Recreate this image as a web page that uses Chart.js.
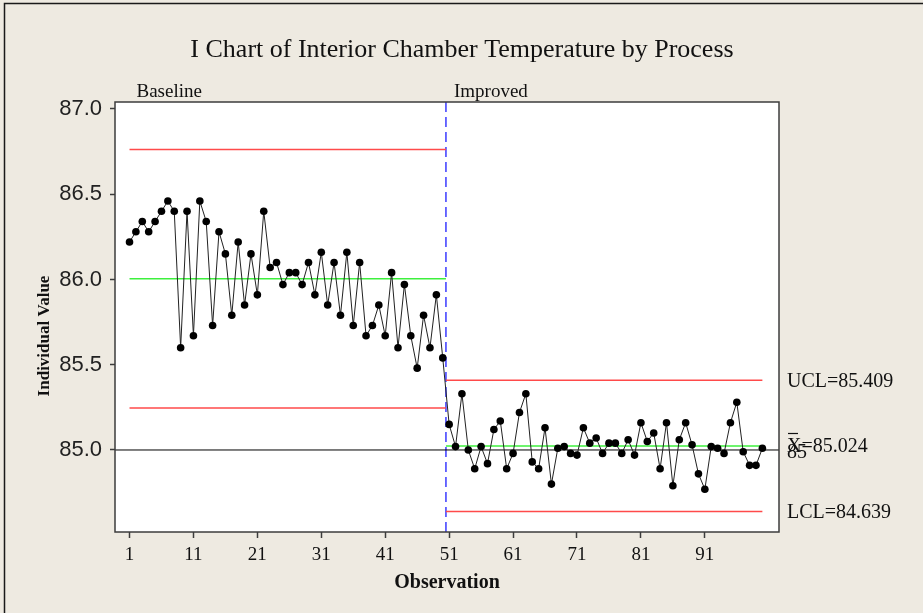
<!DOCTYPE html>
<html>
<head>
<meta charset="utf-8">
<title>I Chart of Interior Chamber Temperature by Process</title>
<script src="https://cdn.jsdelivr.net/npm/chart.js@4.4.1/dist/chart.umd.min.js"></script>
<style>
  html, body { margin: 0; padding: 0; background: #eeeae1; }
  canvas { display: block; }
</style>
</head>
<body>
<canvas id="ichart" width="923" height="613"></canvas>
<script>
// individual readings, observations 1-50 (baseline) and 51-100 (improved)
const baselineTemps = [
  86.22, 86.28, 86.34, 86.28, 86.34, 86.40, 86.46, 86.40, 85.60, 86.40,
  85.67, 86.46, 86.34, 85.73, 86.28, 86.15, 85.79, 86.22, 85.85, 86.15,
  85.91, 86.40, 86.07, 86.10, 85.97, 86.04, 86.04, 85.97, 86.10, 85.91,
  86.16, 85.85, 86.10, 85.79, 86.16, 85.73, 86.10, 85.67, 85.73, 85.85,
  85.67, 86.04, 85.60, 85.97, 85.67, 85.48, 85.79, 85.60, 85.91, 85.54
];
const improvedTemps = [
  85.15, 85.02, 85.33, 85.00, 84.89, 85.02, 84.92, 85.12, 85.17, 84.89,
  84.98, 85.22, 85.33, 84.93, 84.89, 85.13, 84.80, 85.01, 85.02, 84.98,
  84.97, 85.13, 85.04, 85.07, 84.98, 85.04, 85.04, 84.98, 85.06, 84.97,
  85.16, 85.05, 85.10, 84.89, 85.16, 84.79, 85.06, 85.16, 85.03, 84.86,
  84.77, 85.02, 85.01, 84.98, 85.16, 85.28, 84.99, 84.91, 84.91, 85.01
];

// stages and their control limits
const stageNames = ['Baseline', 'Improved'];
const stageFrom = [1, 50.5];
const stageTo = [50.5, 100];
const uclValues = [86.763, 85.409];
const centerValues = [86.005, 85.024];
const lclValues = [85.247, 84.639];
const refValue = 85.0;

const xTicks = [1, 11, 21, 31, 41, 51, 61, 71, 81, 91];
const yTicks = [85.0, 85.5, 86.0, 86.5, 87.0];
const xMin = -1.27, xMax = 102.6;
const yMin = 84.519, yMax = 87.041;

const temps = baselineTemps.concat(improvedTemps);
const points = temps.map((v, i) => ({ x: i + 1, y: v }));

function hline(from, to, y, color, width) {
  return {
    data: [{ x: from, y: y }, { x: to, y: y }],
    borderColor: color,
    borderWidth: width,
    pointRadius: 0,
    fill: false
  };
}

const datasets = [{
  data: points,
  borderColor: '#222',
  borderWidth: 1,
  pointRadius: 3.8,
  pointBackgroundColor: '#000',
  pointBorderColor: '#000',
  pointBorderWidth: 0,
  fill: false
}];
stageNames.forEach((name, s) => {
  datasets.push(hline(stageFrom[s], stageTo[s], uclValues[s], '#ff4a4a', 1.5));
  datasets.push(hline(stageFrom[s], stageTo[s], centerValues[s], '#3ef03e', 1.5));
  datasets.push(hline(stageFrom[s], stageTo[s], lclValues[s], '#ff4a4a', 1.5));
});
datasets.push(hline(xMin, xMax, refValue, '#000', 1));
// dashed divider between stages
datasets.push({
  data: [{ x: stageFrom[1], y: yMin }, { x: stageFrom[1], y: yMax }],
  borderColor: '#3a3aff',
  borderWidth: 1.5,
  borderDash: [10, 5],
  pointRadius: 0,
  fill: false
});

const serif = '"Liberation Serif", "Times New Roman", serif';

const frame = {
  id: 'frame',
  beforeDraw(chart) {
    const ctx = chart.ctx;
    const a = chart.chartArea;
    ctx.save();
    ctx.fillStyle = '#eeeae1';
    ctx.fillRect(0, 0, chart.width, chart.height);
    ctx.strokeStyle = '#1a1a1a';
    ctx.lineWidth = 1.5;
    ctx.beginPath();
    ctx.moveTo(4.5, chart.height);
    ctx.lineTo(4.5, 3.5);
    ctx.lineTo(chart.width, 3.5);
    ctx.stroke();
    ctx.fillStyle = '#fff';
    ctx.fillRect(a.left, a.top, a.right - a.left, a.bottom - a.top);
    ctx.restore();
  },
  afterDraw(chart) {
    const ctx = chart.ctx;
    const a = chart.chartArea;
    const xs = chart.scales.x, ys = chart.scales.y;
    ctx.save();
    ctx.strokeStyle = '#3c3c3c';
    ctx.lineWidth = 1.5;
    ctx.strokeRect(a.left, a.top, a.right - a.left, a.bottom - a.top);

    ctx.fillStyle = '#111';
    ctx.textBaseline = 'alphabetic';
    ctx.textAlign = 'center';
    ctx.font = '26px ' + serif;
    ctx.fillText('I Chart of Interior Chamber Temperature by Process', 462, 57);

    ctx.textAlign = 'left';
    ctx.font = '19px ' + serif;
    stageNames.forEach((name, s) => {
      const px = s === 0 ? xs.getPixelForValue(stageFrom[s]) : xs.getPixelForValue(stageFrom[s]) + 1;
      ctx.fillText(name, px + 7, a.top - 5);
    });

    // y axis title
    ctx.save();
    ctx.translate(49, 336);
    ctx.rotate(-Math.PI / 2);
    ctx.textAlign = 'center';
    ctx.font = 'bold 17px ' + serif;
    ctx.fillText('Individual Value', 0, 0);
    ctx.restore();

    // limit labels for the last stage
    const last = stageNames.length - 1;
    const lx = a.right + 8;
    ctx.font = '20px ' + serif;
    ctx.textBaseline = 'middle';
    ctx.fillText('UCL=' + uclValues[last].toFixed(3), lx, ys.getPixelForValue(uclValues[last]) + 1);
    ctx.fillText('LCL=' + lclValues[last].toFixed(3), lx, ys.getPixelForValue(lclValues[last]) + 1);
    const cy = ys.getPixelForValue(centerValues[last]) + 1;
    ctx.fillText('X=' + centerValues[last].toFixed(3), lx, cy);
    ctx.fillText('85', lx, ys.getPixelForValue(refValue) + 3);
    ctx.fillRect(lx + 1, cy - 14, 10, 1.2);
    ctx.restore();
  }
};

new Chart(document.getElementById('ichart'), {
  type: 'line',
  data: { datasets: datasets },
  options: {
    responsive: false,
    animation: false,
    layout: { padding: { left: 0, right: 144, top: 102, bottom: 11 } },
    plugins: {
      legend: { display: false },
      tooltip: { enabled: false },
      title: { display: false }
    },
    elements: { line: { tension: 0 } },
    scales: {
      x: {
        type: 'linear',
        min: xMin,
        max: xMax,
        afterFit: s => { s.height = 70; },
        afterBuildTicks: s => { s.ticks = xTicks.map(v => ({ value: v })); },
        grid: { drawOnChartArea: false, tickLength: 6, color: '#3c3c3c', tickWidth: 1.5 },
        border: { display: false },
        ticks: {
          color: '#111',
          padding: 6,
          maxRotation: 0,
          font: { family: serif, size: 19 },
          callback: v => String(v)
        },
        title: {
          display: true,
          text: 'Observation',
          color: '#111',
          font: { family: serif, size: 20, weight: 'bold' },
          padding: { top: 0, bottom: 7 }
        }
      },
      y: {
        min: yMin,
        max: yMax,
        afterFit: s => { s.width = 115; },
        afterBuildTicks: s => { s.ticks = yTicks.map(v => ({ value: v })); },
        grid: { drawOnChartArea: false, tickLength: 5, color: '#3c3c3c', tickWidth: 1.5 },
        border: { display: false },
        ticks: {
          color: '#222',
          padding: 8,
          font: { family: '"Liberation Sans", Arial, sans-serif', size: 22 },
          callback: v => Number(v).toFixed(1)
        }
      }
    }
  },
  plugins: [frame]
});
</script>
</body>
</html>
